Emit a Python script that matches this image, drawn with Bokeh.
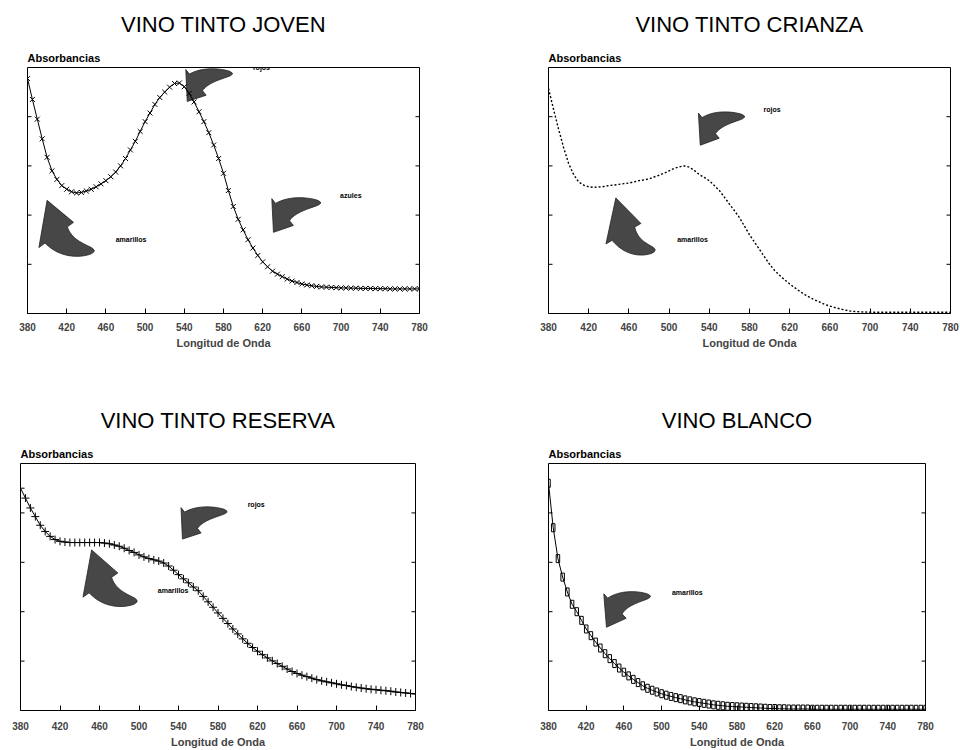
import numpy as np
from bokeh.plotting import figure
from bokeh.models import Title, FixedTicker, Range1d
from bokeh.layouts import row, column
from bokeh.embed import file_html
from bokeh.resources import INLINE
from bokeh.core.properties import value

FONT = "Liberation Sans"

# ---------------- data ----------------
wavelength = list(range(380, 785, 5))
x_ticks = [380, 420, 460, 500, 540, 580, 620, 660, 700, 740, 780]
y_ticks = [0.2, 0.4, 0.6, 0.8]

joven = [0.955, 0.87, 0.79, 0.71, 0.635, 0.58, 0.545, 0.52,
         0.505, 0.495, 0.49, 0.492, 0.498, 0.505, 0.515, 0.527,
         0.54, 0.556, 0.575, 0.60, 0.63, 0.665, 0.70, 0.74,
         0.78, 0.815, 0.85, 0.878, 0.90, 0.92, 0.935, 0.937,
         0.922, 0.895, 0.86, 0.82, 0.78, 0.735, 0.685, 0.63,
         0.57, 0.50, 0.435, 0.383, 0.34, 0.30, 0.266, 0.236,
         0.21, 0.19, 0.172, 0.16, 0.15, 0.14, 0.132, 0.126,
         0.12, 0.116, 0.113, 0.11, 0.108, 0.107, 0.106, 0.105,
         0.104, 0.104, 0.103, 0.103, 0.102, 0.102, 0.102, 0.101,
         0.101, 0.101, 0.10, 0.10, 0.10, 0.10, 0.10, 0.10,
         0.10]

crianza = [0.915, 0.83, 0.75, 0.675, 0.61, 0.565, 0.535, 0.522,
           0.515, 0.513, 0.514, 0.516, 0.52, 0.522, 0.525, 0.528,
           0.53, 0.535, 0.54, 0.543, 0.547, 0.555, 0.562, 0.57,
           0.58, 0.59, 0.596, 0.60, 0.595, 0.582, 0.565, 0.553,
           0.54, 0.52, 0.50, 0.473, 0.445, 0.418, 0.39, 0.355,
           0.32, 0.29, 0.26, 0.23, 0.20, 0.175, 0.155, 0.137,
           0.12, 0.105, 0.09, 0.077, 0.065, 0.055, 0.046, 0.037,
           0.03, 0.024, 0.019, 0.014, 0.01, 0.008, 0.007, 0.006,
           0.005, 0.005, 0.005, 0.005, 0.005, 0.005, 0.005, 0.005,
           0.005, 0.005, 0.005, 0.005, 0.005, 0.005, 0.005, 0.005,
           0.005]

reserva = [0.90, 0.86, 0.82, 0.785, 0.75, 0.725, 0.705, 0.692,
           0.685, 0.682, 0.68, 0.68, 0.68, 0.68, 0.68, 0.68,
           0.68, 0.678, 0.675, 0.67, 0.665, 0.657, 0.648, 0.64,
           0.63, 0.622, 0.615, 0.61, 0.605, 0.597, 0.585, 0.568,
           0.55, 0.533, 0.517, 0.50, 0.485, 0.462, 0.44, 0.418,
           0.395, 0.373, 0.352, 0.33, 0.31, 0.29, 0.272, 0.255,
           0.24, 0.226, 0.213, 0.201, 0.19, 0.179, 0.168, 0.158,
           0.15, 0.143, 0.137, 0.131, 0.125, 0.12, 0.116, 0.112,
           0.108, 0.104, 0.101, 0.097, 0.094, 0.091, 0.088, 0.086,
           0.084, 0.082, 0.08, 0.078, 0.075, 0.073, 0.071, 0.069,
           0.067]

blanco = [0.92, 0.74, 0.615, 0.54, 0.48, 0.43, 0.40, 0.365,
          0.33, 0.303, 0.277, 0.253, 0.23, 0.21, 0.19, 0.172,
          0.155, 0.14, 0.126, 0.113, 0.10, 0.09, 0.082, 0.075,
          0.068, 0.062, 0.057, 0.052, 0.048, 0.043, 0.039, 0.035,
          0.032, 0.029, 0.026, 0.023, 0.021, 0.019, 0.017, 0.016,
          0.015, 0.014, 0.013, 0.012, 0.011, 0.01, 0.009, 0.008,
          0.008, 0.007, 0.007, 0.006, 0.006, 0.006, 0.006, 0.006,
          0.005, 0.005, 0.005, 0.005, 0.005, 0.005, 0.005, 0.005,
          0.005, 0.005, 0.005, 0.005, 0.005, 0.005, 0.005, 0.005,
          0.005, 0.005, 0.005, 0.005, 0.005, 0.005, 0.005, 0.005,
          0.005]

# annotation arrows: (label, tail(x, y), tip(x, y), label position(x, y))
arrows_joven = [("rojos", (589, 0.975), (543, 0.862), (610, 1.0)),
                ("azules", (679, 0.45), (631, 0.33), (699, 0.478)),
                ("amarillos", (448, 0.255), (400, 0.46), (470, 0.30))]
arrows_crianza = [("rojos", (575, 0.80), (531, 0.684), (594, 0.83)),
                  ("amarillos", (486, 0.258), (447, 0.47), (508, 0.30))]
arrows_reserva = [("rojos", (589, 0.805), (544, 0.694), (610, 0.835)),
                  ("amarillos", (498, 0.443), (452, 0.65), (519, 0.484))]
arrows_blanco = [("amarillos", (488, 0.462), (441.5, 0.337), (511, 0.478))]


def arrow_shape(tail, tip, fw, fh):
    sx = fw / 400.0
    sy = fh / 1.0
    T = np.array([(tail[0] - 380) * sx, tail[1] * sy])
    P = np.array([(tip[0] - 380) * sx, tip[1] * sy])
    C = np.array([P[0], T[1]])
    L = np.hypot(*(P - T))
    W = 0.40 * L
    Hw = 0.31 * L
    tb = 0.56

    def Q(t):
        return (1 - t) ** 2 * T + 2 * t * (1 - t) * C + t ** 2 * P

    def N(t):
        d = 2 * (1 - t) * (C - T) + 2 * t * (P - C)
        n = np.array([-d[1], d[0]])
        return n / np.hypot(*n)

    ts = np.linspace(0, tb, 24)
    left, right = [], []
    for t in ts:
        w = W * (0.06 + 0.94 * (t / tb) ** 0.6) / 2
        left.append(Q(t) + N(t) * w)
        right.append(Q(t) - N(t) * w)
    B = Q(tb)
    nb = N(tb)
    pts = left + [B + nb * Hw, P, B - nb * Hw] + right[::-1]
    xs = [380 + pt[0] / sx for pt in pts]
    ys = [pt[1] / sy for pt in pts]
    return xs, ys


def make_panel(title, width, height, left, right, top, bottom, arrows, tick_standoff=9):
    p = figure(width=width, height=height, title=None,
               x_range=Range1d(380, 780), y_range=Range1d(0, 1),
               y_axis_location=None,
               output_backend="svg", toolbar_location=None,
               min_border_left=left, min_border_right=right,
               min_border_top=top, min_border_bottom=bottom)
    fw = width - left - right
    fh = height - top - bottom
    p.add_layout(Title(text="Absorbancias", align="left", standoff=8,
                       text_font=FONT, text_font_size="11px",
                       text_font_style="bold", text_color="black"), "above")
    p.add_layout(Title(text=title, align="center", standoff=18,
                       text_font=FONT, text_font_size="22px",
                       text_font_style="normal", text_color="black"), "above")
    p.grid.visible = False
    p.outline_line_color = "black"
    p.outline_line_width = 1
    p.outline_line_alpha = 1

    xa = p.xaxis[0]
    xa.ticker = FixedTicker(ticks=x_ticks)
    xa.axis_label = "Longitud de Onda"
    xa.axis_label_text_font = FONT
    xa.axis_label_text_font_size = "11px"
    xa.axis_label_text_font_style = "bold"
    xa.axis_label_standoff = 3
    xa.major_label_text_font = FONT
    xa.major_label_text_font_size = "10px"
    xa.major_label_text_font_style = "bold"
    xa.major_label_standoff = tick_standoff
    xa.major_tick_in = 5
    xa.major_tick_out = 0
    xa.minor_tick_line_color = None
    xa.axis_line_color = "black"

    # inward y ticks on both frame edges (no labels)
    n = len(y_ticks)
    p.scatter([380] * n, y_ticks, marker="dash", size=8, line_color="black", line_width=1)
    p.scatter([780] * n, y_ticks, marker="dash", size=8, line_color="black", line_width=1)

    for label, tail, tip, lpos in arrows:
        xs, ys = arrow_shape(tail, tip, fw, fh)
        p.patch(xs, ys, fill_color="#474747", line_color="#222222", line_width=0.8)
        p.text(x=[lpos[0]], y=[lpos[1]], text=[label], text_font=value(FONT),
               text_font_size="7px", text_font_style="bold",
               text_baseline="middle", text_align="left", text_color="black")
    return p


p1 = make_panel("VINO TINTO JOVEN", 488, 396, 27, 69, 66, 83, arrows_joven)
p1.line(wavelength, joven, line_color="black", line_width=1)
p1.scatter(wavelength, joven, marker="x", size=7, line_color="black", line_width=1)

p2 = make_panel("VINO TINTO CRIANZA", 472, 396, 60, 10, 66, 83, arrows_crianza)
p2.line(wavelength, crianza, line_color="black", line_width=1.4, line_dash="2 2")

p3 = make_panel("VINO TINTO RESERVA", 488, 354, 20, 73, 66, 40, arrows_reserva, 11)
p3.line(wavelength, reserva, line_color="black", line_width=1)
p3.scatter(wavelength, reserva, marker="cross", size=8, line_color="black", line_width=1)

p4 = make_panel("VINO BLANCO", 472, 354, 60, 35, 67, 38, arrows_blanco, 11)
p4.line(wavelength, blanco, line_color="black", line_width=1)
p4.rect(wavelength, blanco, width=3.5, height=8, width_units="screen",
        height_units="screen", fill_color=None, line_color="black", line_width=1)

layout = column(row(p1, p2), row(p3, p4))

with open("out.html", "w") as f:
    f.write(file_html(layout, INLINE))
